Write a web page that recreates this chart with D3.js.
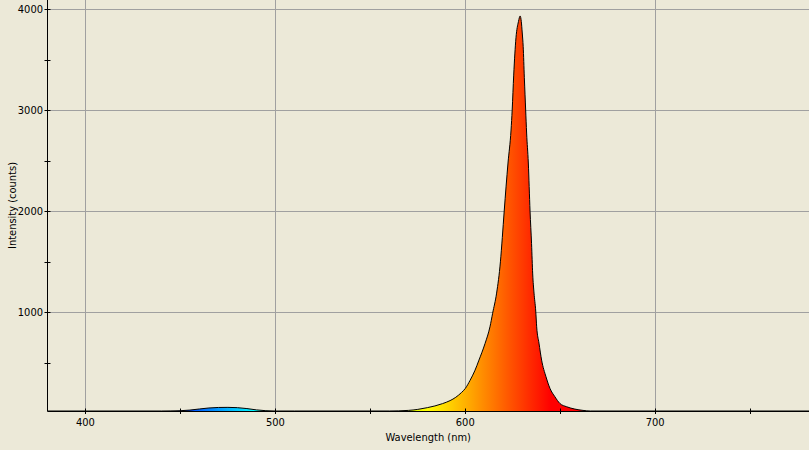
<!DOCTYPE html>
<html>
<head>
<meta charset="utf-8">
<script src="https://cdn.jsdelivr.net/npm/d3@7"></script>
<style>
  html, body { margin: 0; padding: 0; background: #ece9d8; }
  svg { display: block; }
  text { font-family: "DejaVu Sans Condensed", "Liberation Sans", sans-serif; font-size: 11px; fill: #000; }
</style>
</head>
<body>
<div id="chart"></div>
<script>
(function () {
  'use strict';

  // spectrum: wavelength (nm) and intensity (counts)
  var wavelengths = [380, 440, 445, 450, 455, 460, 465, 470, 475, 480, 485, 490, 495, 500, 510,
    560, 570, 575, 580, 584, 588, 592, 595, 598, 600, 602.5, 605, 607.2, 610.4, 613, 614.4,
    616.5, 618.5, 619.5, 620.5, 622.5, 624.1, 624.7, 625.5, 626.7, 628, 628.9, 629.5,
    630, 630.5, 631.1, 631.8, 632.3, 633.2, 634.1, 634.9, 635.5, 636.2, 637.1, 637.6,
    638.8, 640.2, 642.5, 644.6, 647.2, 649.8, 653.4, 657.7, 662, 666, 781];
  var counts = [22, 22, 23, 25, 31, 42, 52, 57, 58, 55, 46, 33, 25, 22, 22,
    22, 28, 38, 55, 72, 95, 125, 158, 205, 245, 325, 420, 526, 690, 856, 990,
    1190, 1500, 1740, 2003, 2479, 2806, 3004, 3350, 3720, 3880, 3936, 3880,
    3767, 3631, 3324, 3004, 2776, 2479, 2003, 1680, 1380, 1190, 1012, 856,
    695, 526, 361, 246, 163, 97, 64, 41, 28, 22, 22];

  var xMajor = [400, 500, 600, 700];
  var xMinor = [450, 550, 650, 750];
  var yMajor = [1000, 2000, 3000, 4000];
  var yMinor = [500, 1500, 2500, 3500];

  var data = wavelengths.map(function (w, i) { return { w: w, c: counts[i] }; });

  var width = 809, height = 450;
  var left = 47.5, bottom = 411;

  var x = d3.scaleLinear().domain([380, 781]).range([left, width]);
  var y = d3.scaleLinear().domain([22, 4094]).range([bottom, 0]);

  function px(v) { return Math.round(v) + 0.5; }

  // visible spectrum colour for a wavelength
  function waveColor(w) {
    var r = 0, g = 0, b = 0;
    if (w < 440) { r = (440 - w) / 60; b = 1; }
    else if (w < 490) { g = (w - 440) / 50; b = 1; }
    else if (w < 510) { g = 1; b = (510 - w) / 20; }
    else if (w < 580) { r = (w - 510) / 70; g = 1; }
    else if (w < 645) { r = 1; g = (645 - w) / 65; }
    else { r = 1; }
    return d3.rgb(r * 255, g * 255, b * 255).toString();
  }

  var svg = d3.select('#chart').append('svg')
    .attr('width', width)
    .attr('height', height);

  svg.append('rect')
    .attr('width', width).attr('height', height)
    .attr('fill', '#ece9d8');

  var defs = svg.append('defs');
  var grad = defs.append('linearGradient')
    .attr('id', 'spec')
    .attr('gradientUnits', 'userSpaceOnUse')
    .attr('x1', x(380)).attr('x2', x(780))
    .attr('y1', 0).attr('y2', 0);
  d3.range(380, 781, 5).forEach(function (w) {
    grad.append('stop')
      .attr('offset', ((w - 380) / 400 * 100) + '%')
      .attr('stop-color', waveColor(w));
  });

  defs.append('clipPath').attr('id', 'plot')
    .append('rect')
    .attr('x', left).attr('y', 0)
    .attr('width', width - left).attr('height', bottom);

  // grid
  var grid = svg.append('g').attr('stroke', '#a0a0a0').attr('stroke-width', 1);
  grid.selectAll('.vx').data(xMajor).enter().append('line')
    .attr('x1', function (d) { return px(x(d)); })
    .attr('x2', function (d) { return px(x(d)); })
    .attr('y1', 0).attr('y2', bottom);
  grid.selectAll('.hy').data(yMajor).enter().append('line')
    .attr('x1', left).attr('x2', width)
    .attr('y1', function (d) { return px(y(d)); })
    .attr('y2', function (d) { return px(y(d)); });

  // spectrum fill and outline
  var area = d3.area()
    .curve(d3.curveMonotoneX)
    .x(function (d) { return x(d.w); })
    .y0(bottom)
    .y1(function (d) { return y(d.c); });
  var line = d3.line()
    .curve(d3.curveMonotoneX)
    .x(function (d) { return x(d.w); })
    .y(function (d) { return y(d.c); });

  var plot = svg.append('g').attr('clip-path', 'url(#plot)');
  plot.append('path')
    .datum(data)
    .attr('d', area)
    .attr('fill', 'url(#spec)');
  plot.append('path')
    .datum(data)
    .attr('d', line)
    .attr('fill', 'none')
    .attr('stroke', '#000')
    .attr('stroke-width', 1);

  // axes
  var axes = svg.append('g').attr('stroke', '#000').attr('stroke-width', 1);
  axes.append('line')
    .attr('x1', left).attr('x2', left)
    .attr('y1', 0).attr('y2', bottom + 0.5);
  axes.append('line')
    .attr('x1', left).attr('x2', width)
    .attr('y1', bottom + 0.5).attr('y2', bottom + 0.5);

  axes.selectAll('.ty').data(yMajor.concat(yMinor)).enter().append('line')
    .attr('x1', left - 3).attr('x2', left + 3)
    .attr('y1', function (d) { return px(y(d)); })
    .attr('y2', function (d) { return px(y(d)); });
  axes.selectAll('.tx').data(xMajor.concat(xMinor)).enter().append('line')
    .attr('x1', function (d) { return px(x(d)); })
    .attr('x2', function (d) { return px(x(d)); })
    .attr('y1', bottom - 2.5).attr('y2', bottom + 3);

  svg.selectAll('.ly').data(yMajor).enter().append('text')
    .attr('x', left - 4.5)
    .attr('y', function (d) { return y(d); })
    .attr('dy', '0.35em')
    .attr('text-anchor', 'end')
    .text(function (d) { return d; });
  svg.selectAll('.lx').data(xMajor).enter().append('text')
    .attr('x', function (d) { return x(d); })
    .attr('y', 426)
    .attr('text-anchor', 'middle')
    .text(function (d) { return d; });

  svg.append('text')
    .attr('x', (left + width) / 2)
    .attr('y', 441)
    .attr('text-anchor', 'middle')
    .text('Wavelength (nm)');
  svg.append('text')
    .attr('transform', 'translate(16,' + (bottom / 2) + ') rotate(-90)')
    .attr('text-anchor', 'middle')
    .text('Intensity (counts)');
}());
</script>
</body>
</html>
